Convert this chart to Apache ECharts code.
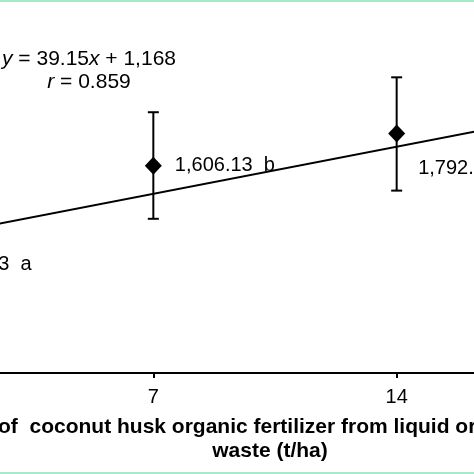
<!DOCTYPE html>
<html lang="en">
<head>
    <meta charset="UTF-8">
    <title>Coconut husk fertilizer dose</title>
    <style>
        html, body { margin: 0; padding: 0; background: #fff; }
        #main { width: 474px; height: 474px; }
    </style>
</head>
<body>
    <div id="main"></div>

    <script src="https://cdn.jsdelivr.net/npm/echarts@6/dist/echarts.min.js"></script>
    <script type="text/javascript">
        // dose (t/ha) and mean values
        var doses = [0, 7, 14, 21];
        var means = [1033.33, 1606.13, 1792.53, 1884.73];
        var errLow = [733, 1297, 1461, 1565];
        var errHigh = [1333, 1917, 2120, 2205];
        var pointLabels = ['1,033.33  a', '1,606.13  b', '1,792.53  bc', '1,884.73  c'];
        var xTicks = [0, 7, 14, 21];

        // regression line y = 39.15x + 1,168
        var trendX = [0, 21];
        var trendY = [1168, 1990.15];

        var font = '"Liberation Sans", Arial, Helvetica, sans-serif';

        var myChart = echarts.init(document.getElementById('main'));

        var pointData = [];
        for (var i = 0; i < doses.length; i++) {
            var item = { value: [doses[i], means[i]], label: { formatter: pointLabels[i] } };
            if (i == 2) {
                // this label sits below the line
                item.label.offset = [0, 35];
            }
            pointData.push(item);
        }

        var errData = [];
        for (var i = 0; i < doses.length; i++) {
            errData.push([doses[i], errLow[i], errHigh[i]]);
        }

        var trendData = [];
        for (var i = 0; i < trendX.length; i++) {
            trendData.push([trendX[i], trendY[i]]);
        }

        option = {
            animation: false,
            backgroundColor: '#fff',
            grid: {
                left: -90,
                right: -166,
                top: 12,
                bottom: 101,
                containLabel: false,
                outerBoundsMode: 'none'
            },
            xAxis: {
                type: 'value',
                min: 0,
                max: 21,
                interval: 7,
                // gap tokens nudge the two centred lines like in the original figure
                name: 'Dose of  coconut husk organic fertilizer from liquid organic{g1|}\nwaste (t/ha){g2|}',
                nameLocation: 'middle',
                nameGap: 42,
                nameTextStyle: {
                    color: '#000',
                    fontFamily: font,
                    fontWeight: 'bold',
                    fontSize: 21,
                    lineHeight: 24,
                    rich: {
                        g1: { width: 78 },
                        g2: { width: 10 }
                    }
                },
                axisLine: { lineStyle: { color: '#000', width: 2 } },
                axisTick: { show: true, length: 5, lineStyle: { color: '#000', width: 2 } },
                axisLabel: {
                    color: '#000',
                    fontFamily: font,
                    fontSize: 20,
                    margin: 14,
                    customValues: xTicks
                },
                splitLine: { show: false }
            },
            yAxis: {
                type: 'value',
                min: 400,
                max: 2500,
                show: false,
                splitLine: { show: false }
            },
            graphic: [
                { type: 'rect', left: 0, top: 0, shape: { width: 474, height: 2 }, style: { fill: '#abe8c9' } },
                { type: 'rect', left: 0, top: 472, shape: { width: 474, height: 2 }, style: { fill: '#abe8c9' } },
                {
                    type: 'text',
                    x: 89,
                    y: 48,
                    style: {
                        text: '{i|y} = 39.15{i|x} + 1,168\n{i|r} = 0.859',
                        align: 'center',
                        verticalAlign: 'top',
                        fill: '#000',
                        font: '21px ' + font,
                        lineHeight: 23,
                        rich: {
                            i: { fontStyle: 'italic', fontSize: 21, fontFamily: font, fill: '#000' }
                        }
                    }
                }
            ],
            series: [
                {
                    name: 'trend',
                    type: 'line',
                    data: trendData,
                    symbol: 'none',
                    lineStyle: { color: '#000', width: 2 },
                    z: 2
                },
                {
                    name: 'error',
                    type: 'custom',
                    data: errData,
                    z: 3,
                    renderItem: function (params, api) {
                        var x = api.value(0);
                        var lo = api.coord([x, api.value(1)]);
                        var hi = api.coord([x, api.value(2)]);
                        var half = 5.5;
                        var st = { stroke: '#000', lineWidth: 2 };
                        return {
                            type: 'group',
                            children: [
                                { type: 'line', shape: { x1: lo[0], y1: lo[1], x2: hi[0], y2: hi[1] }, style: st },
                                { type: 'line', shape: { x1: lo[0] - half, y1: lo[1], x2: lo[0] + half, y2: lo[1] }, style: st },
                                { type: 'line', shape: { x1: hi[0] - half, y1: hi[1], x2: hi[0] + half, y2: hi[1] }, style: st }
                            ]
                        };
                    }
                },
                {
                    name: 'mean',
                    type: 'scatter',
                    data: pointData,
                    symbol: 'diamond',
                    symbolSize: [17, 18],
                    itemStyle: { color: '#000', opacity: 1 },
                    z: 4,
                    label: {
                        show: true,
                        position: 'right',
                        distance: 13,
                        color: '#000',
                        opacity: 1,
                        fontFamily: font,
                        fontSize: 20
                    }
                }
            ]
        };
        myChart.setOption(option);
    </script>
</body>
</html>
